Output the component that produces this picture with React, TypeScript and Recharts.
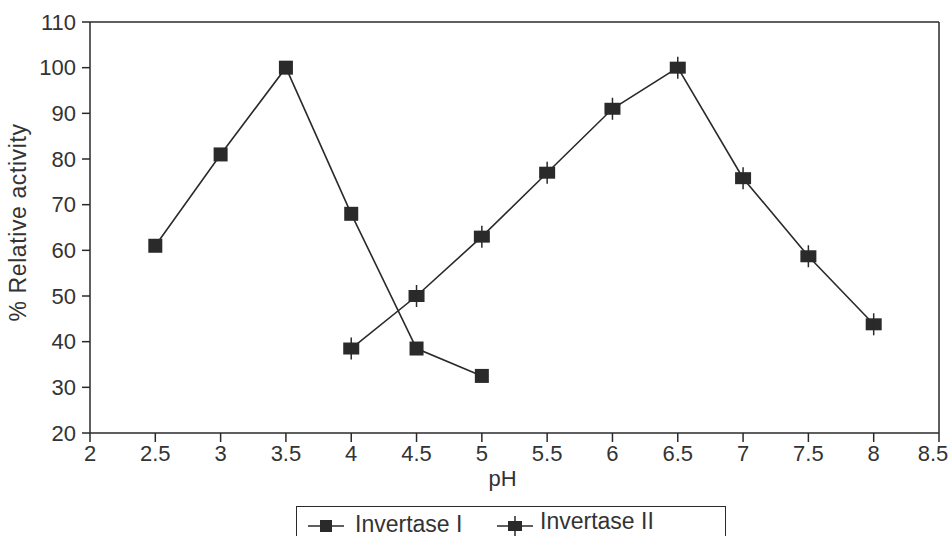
import React from "react";
import {
  LineChart,
  Line,
  XAxis,
  YAxis,
  ReferenceLine,
  Label,
} from "recharts";

const phTicks = [2, 2.5, 3, 3.5, 4, 4.5, 5, 5.5, 6, 6.5, 7, 7.5, 8, 8.5];
const activityTicks = [20, 30, 40, 50, 60, 70, 80, 90, 100, 110];

const invertaseIPh = [2.5, 3, 3.5, 4, 4.5, 5];
const invertaseI = [61, 81, 100, 68, 38.5, 32.5];

const invertaseIIPh = [4, 4.5, 5, 5.5, 6, 6.5, 7, 7.5, 8];
const invertaseII = [38.5, 50, 63, 77, 91, 100, 75.8, 58.7, 43.8];

const dataI = invertaseIPh.map((ph, i) => ({ ph, value: invertaseI[i] }));
const dataII = invertaseIIPh.map((ph, i) => ({ ph, value: invertaseII[i] }));

const INK = "#2a2a2a";
const FONT = "'Liberation Sans', Arial, sans-serif";

function SquareDot(props: any) {
  const { cx, cy, index } = props;
  if (cx == null || cy == null) return null;
  return <rect key={index} x={cx - 7} y={cy - 7} width={14} height={14} fill={INK} />;
}

function CrossDot(props: any) {
  const { cx, cy, index } = props;
  if (cx == null || cy == null) return null;
  return (
    <g key={index}>
      <rect x={cx - 8} y={cy - 6} width={16} height={12} fill={INK} />
      <line x1={cx} y1={cy - 11} x2={cx} y2={cy + 11} stroke={INK} strokeWidth={1.5} />
    </g>
  );
}

// keeps the last label (8.5) inside the picture, like the original
function PhTick(props: any) {
  const { x, y, payload } = props;
  const tx = Math.min(x, 933);
  return (
    <text
      x={tx}
      y={y}
      dy="0.71em"
      textAnchor="middle"
      fontSize={22}
      fill="#333"
      fontFamily={FONT}
    >
      {payload.value}
    </text>
  );
}

function YTitle(props: any) {
  const vb = props.viewBox || { x: 0, y: 22, height: 411 };
  const x = vb.x + 26;
  const y = vb.y + vb.height / 2 - 5;
  return (
    <text
      x={x}
      y={y}
      transform={`rotate(-90 ${x} ${y})`}
      textAnchor="middle"
      fontSize={23}
      letterSpacing={0.6}
      fill="#333"
      fontFamily={FONT}
    >
      % Relative activity
    </text>
  );
}

export default function App() {
  const tickStyle = { fontSize: 22, fill: "#333", fontFamily: FONT };
  return (
    <div style={{ position: "absolute", left: 0, top: 0, width: 950, height: 536, background: "#fff", overflow: "hidden" }}>
      <LineChart
        width={950}
        height={536}
        margin={{ top: 22, right: 11, bottom: 43, left: 0 }}
      >
        <XAxis
          type="number"
          dataKey="ph"
          domain={[2, 8.5]}
          ticks={phTicks}
          interval={0}
          allowDuplicatedCategory={false}
          height={60}
          tickSize={9}
          tickMargin={3}
          stroke={INK}
          strokeWidth={1.5}
          tick={<PhTick />}
        >
          <Label
            value="pH"
            position="insideBottom"
            offset={7}
            dx={-12}
            style={{ fontSize: 22, fill: "#333", fontFamily: FONT }}
          />
        </XAxis>
        <YAxis
          type="number"
          domain={[20, 110]}
          ticks={activityTicks}
          interval={0}
          width={90}
          tickSize={8}
          tickMargin={6}
          stroke={INK}
          strokeWidth={1.5}
          tick={tickStyle}
        >
          <Label content={<YTitle />} position="insideLeft" />
        </YAxis>
        <ReferenceLine y={110} stroke={INK} strokeWidth={1.5} />
        <ReferenceLine x={8.5} stroke={INK} strokeWidth={1.5} />
        <Line
          data={dataI}
          dataKey="value"
          type="linear"
          stroke={INK}
          strokeWidth={1.6}
          dot={<SquareDot />}
          activeDot={false}
          isAnimationActive={false}
        />
        <Line
          data={dataII}
          dataKey="value"
          type="linear"
          stroke={INK}
          strokeWidth={1.6}
          dot={<CrossDot />}
          activeDot={false}
          isAnimationActive={false}
        />
      </LineChart>

      {/* legend box, cut off by the bottom edge like the original */}
      <div
        style={{
          position: "absolute",
          left: 296,
          top: 506,
          width: 428,
          height: 50,
          border: `1.5px solid ${INK}`,
          fontFamily: FONT,
          fontSize: 23,
          color: "#333",
        }}
      >
        <svg width={430} height={40} style={{ position: "absolute", left: 0, top: 0 }}>
          <line x1={11} y1={19} x2={47} y2={19} stroke={INK} strokeWidth={1.6} />
          <rect x={23} y={13} width={12} height={12} fill={INK} />
          <line x1={200} y1={19} x2={236} y2={19} stroke={INK} strokeWidth={1.6} />
          <rect x={211} y={14} width={14} height={10} fill={INK} />
          <line x1={218} y1={9} x2={218} y2={29} stroke={INK} strokeWidth={1.5} />
        </svg>
        <span style={{ position: "absolute", left: 58, top: 4, lineHeight: "26px", whiteSpace: "nowrap" }}>
          Invertase I
        </span>
        <span style={{ position: "absolute", left: 243, top: 1, lineHeight: "26px", whiteSpace: "nowrap" }}>
          Invertase II
        </span>
      </div>
    </div>
  );
}
